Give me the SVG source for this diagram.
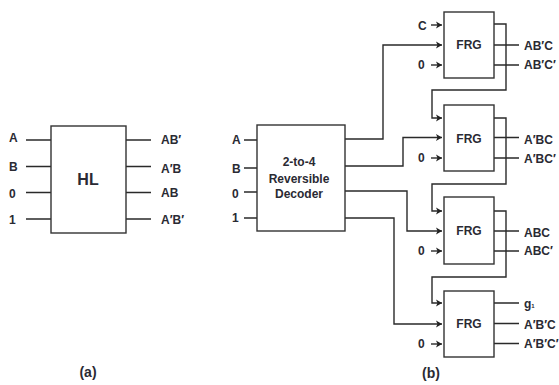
<svg xmlns="http://www.w3.org/2000/svg" width="559" height="385" viewBox="0 0 559 385">
<style>
text{font-family:"Liberation Sans",Arial,sans-serif;font-weight:bold;font-size:12px;fill:#2a2a33}
.c{text-anchor:middle}
.b{fill:#fff;stroke:#333;stroke-width:1.4}
.l{fill:none;stroke:#2a2a2a;stroke-width:1.4}
.t{font-size:16px}
.p{font-size:14px}
.a{marker-end:url(#ah)}
</style>
<defs>
<marker id="ah" markerUnits="userSpaceOnUse" markerWidth="7" markerHeight="8" refX="6" refY="4" orient="auto"><path d="M0 0.500L6 4L0 7.500L1.500 4Z" fill="#222"/></marker>
</defs>
<rect width="559" height="385" fill="#fff"/>
<g id="connectors">
<path class="l" d="M26 140H51M26 166.500H51M26 192.500H51M26 219H51M126 140H151M126 166.500H151M126 192.500H151M126 219H151"/>
<path class="l" d="M244 140H257M244 168H257M244 192H257M244 218H257"/>
<path class="l a" d="M431 25H442"/>
<path class="l a" d="M431 65H442"/>
<path class="l a" d="M431 158H442"/>
<path class="l a" d="M431 251H442"/>
<path class="l a" d="M431 344H442"/>
<path class="l a" d="M345 139H383V45H442"/>
<path class="l a" d="M345 166H403V137.500H442"/>
<path class="l a" d="M345 191H407V231H442"/>
<path class="l a" d="M345 218H394V324H442"/>
<path class="l a" d="M494 24H506V90H432V118H442"/>
<path class="l a" d="M494 118H506V184H432V211H442"/>
<path class="l a" d="M494 211H506V277H432V303H442"/>
<path class="l" d="M494 45H519M494 65H519M494 137.500H519M494 158H519M494 231H519M494 251H519M494 303H519M494 323.500H519M494 343.500H519"/>
</g>
<g id="hl"><rect class="b" x="51" y="126" width="75" height="107"/><text class="c t" x="88" y="185">HL</text></g>
<g id="decoder"><rect class="b" x="257" y="125" width="88" height="106"/>
<text class="c" x="299" y="166">2-to-4</text><text class="c" x="299" y="182.500">Reversible</text><text class="c" x="299" y="198">Decoder</text></g>
<g id="frg1"><rect class="b" x="444" y="12" width="50" height="66"/><text class="c" x="469" y="49">FRG</text></g>
<g id="frg2"><rect class="b" x="444" y="105" width="50" height="66"/><text class="c" x="469" y="142.500">FRG</text></g>
<g id="frg3"><rect class="b" x="444" y="197" width="50" height="67"/><text class="c" x="469" y="235">FRG</text></g>
<g id="frg4"><rect class="b" x="444" y="291" width="50" height="66"/><text class="c" x="469" y="327.500">FRG</text></g>
<g id="labels">
<text x="9" y="142">A</text><text x="9" y="171">B</text><text x="9" y="197.500">0</text><text x="9" y="223.500">1</text>
<text x="161" y="144">AB′</text><text x="161" y="173">A′B</text><text x="161" y="197">AB</text><text x="161" y="223.500">A′B′</text>
<text x="232" y="144">A</text><text x="232" y="172.500">B</text><text x="232" y="197.500">0</text><text x="232" y="222">1</text>
<text x="418" y="29.500">C</text><text x="418" y="69">0</text><text x="418" y="162">0</text><text x="418" y="254.500">0</text><text x="418" y="348">0</text>
<text x="524" y="50">AB′C</text><text x="524" y="69">AB′C′</text>
<text x="524" y="144">A′BC</text><text x="524" y="163">A′BC′</text>
<text x="524" y="236.500">ABC</text><text x="524" y="254.500">ABC′</text>
<text x="524" y="308">g<tspan font-size="6">1</tspan></text><text x="524" y="329">A′B′C</text><text x="524" y="348">A′B′C′</text>
<text class="c p" x="88" y="377">(a)</text>
<text class="c p" x="431" y="378">(b)</text>
</g>
</svg>
